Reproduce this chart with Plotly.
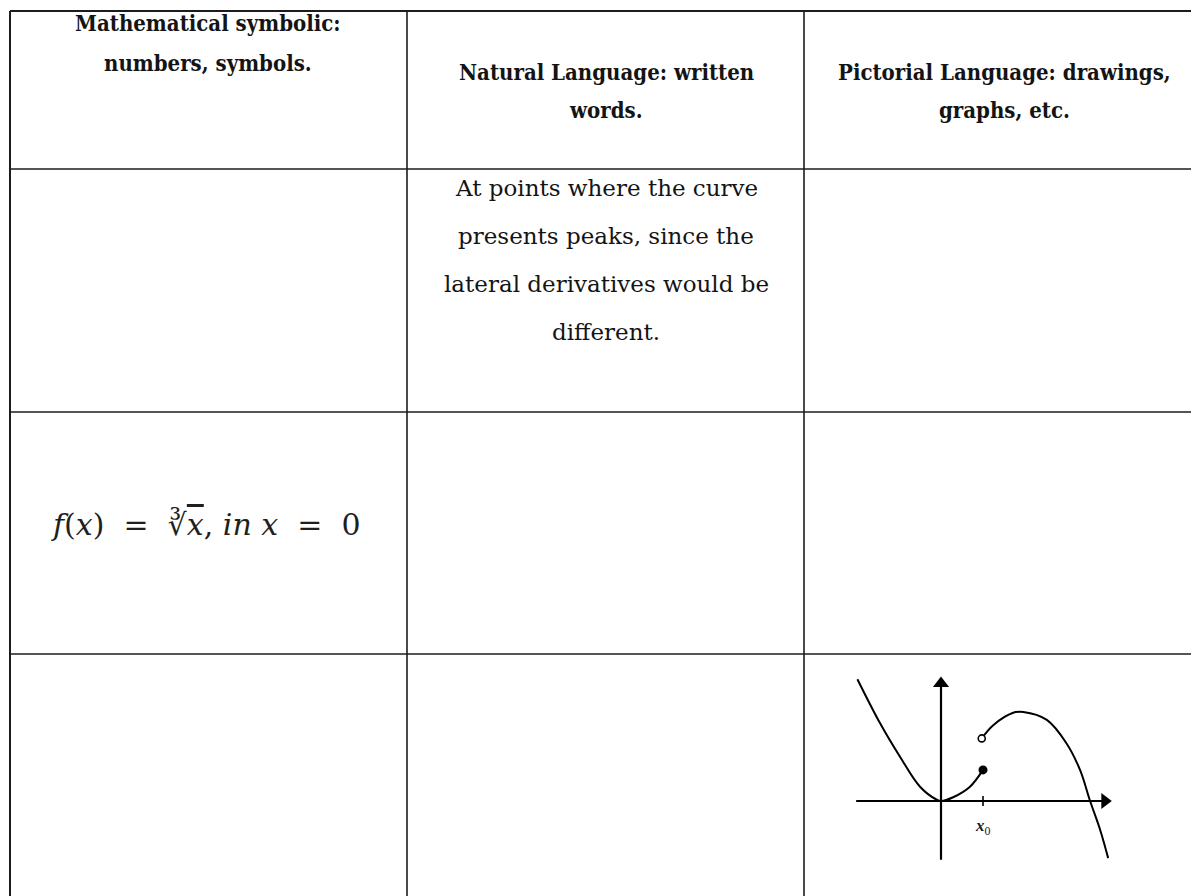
import plotly.graph_objects as go

# ---------------------------------------------------------------- table data
HEADERS = [
    ["Mathematical symbolic:", "numbers, symbols."],
    ["Natural Language: written", "words."],
    ["Pictorial Language: drawings,", "graphs, etc."],
]
NATURAL_LINES = [
    "At points where the curve",
    "presents peaks, since the",
    "lateral derivatives would be",
    "different.",
]
FORMULA = ("<i>f</i>(<i>x</i>)&nbsp; = &nbsp;∛<span style='text-decoration:overline'><i>x</i></span>"
           ", <i>in x</i>&nbsp; = &nbsp;0")

# --------------------------------------------------------- sketch (units of x0)
LEFT_X = [-1.99, -1.45, -0.98, -0.5, -0.1, 0.0, 0.29, 0.69, 1.0]
LEFT_Y = [2.90, 1.85, 1.06, 0.34, 0.03, 0.0, 0.09, 0.34, 0.74]
RIGHT_X = [0.97, 1.25, 1.72, 1.96, 2.52, 2.99, 3.31, 3.55, 3.79, 3.98]
RIGHT_Y = [1.49, 1.81, 2.10, 2.12, 1.93, 1.37, 0.74, 0.0, -0.69, -1.36]
FILLED_PT = (1.0, 0.74)
OPEN_PT = (0.97, 1.49)
X0 = 1.0
X_AXIS = [-2.02, 3.90]
Y_AXIS = [-1.40, 2.80]
X_TIP = 3.90
Y_TIP = 2.80

# page geometry (pixels)
W, H = 1191, 896
COL_EDGES = [10, 407, 804]
ROW_EDGES = [11, 169, 412, 654]
LINE = "#1c1c1c"
INK = "#141414"

fig = go.Figure()

# grid lines of the table
for x in COL_EDGES:
    fig.add_shape(type="line", xref="x", yref="y", x0=x, x1=x, y0=ROW_EDGES[0], y1=H + 5,
                  line=dict(color=LINE, width=2 if x == COL_EDGES[0] else 1.6))
for y in ROW_EDGES:
    fig.add_shape(type="line", xref="x", yref="y", x0=COL_EDGES[0], x1=W + 5, y0=y, y1=y,
                  line=dict(color=LINE, width=2 if y == ROW_EDGES[0] else 1.6))

# headers, one annotation per line to control the leading
head_font = dict(family="DejaVu Serif Condensed", size=22, color=INK)
head_pos = [(208, [23, 63]), (606, [72, 110]), (1004, [72, 110])]
for lines, (hx, ys) in zip(HEADERS, head_pos):
    for txt, hy in zip(lines, ys):
        fig.add_annotation(x=hx, y=hy, xref="x", yref="y", text=f"<b>{txt}</b>",
                           showarrow=False, font=head_font)

# natural-language cell
body_font = dict(family="DejaVu Serif", size=23, color=INK)
for i, line in enumerate(NATURAL_LINES):
    fig.add_annotation(x=606, y=188 + 48 * i, xref="x", yref="y", text=line,
                       showarrow=False, font=body_font)

# symbolic formula
fig.add_annotation(x=206, y=524, xref="x", yref="y", text=FORMULA, showarrow=False,
                   font=dict(family="DejaVu Serif", size=30, color="#1f1f1f"))

# ------------------------------------------------------------- the sketch
sk = dict(xaxis="x2", yaxis="y2", hoverinfo="skip")
fig.add_scatter(x=X_AXIS, y=[0, 0], mode="lines", **sk, line=dict(color="black", width=2.2))
fig.add_scatter(x=[0, 0], y=Y_AXIS, mode="lines", **sk, line=dict(color="black", width=2.2))
# arrowheads
fig.add_scatter(x=[X_TIP], y=[0], mode="markers", **sk,
                marker=dict(symbol="triangle-right", size=14, color="black"))
fig.add_scatter(x=[0], y=[Y_TIP], mode="markers", **sk,
                marker=dict(symbol="triangle-up", size=14, color="black"))
fig.add_scatter(x=LEFT_X, y=LEFT_Y, mode="lines", **sk,
                line=dict(color="black", width=2, shape="spline"))
fig.add_scatter(x=RIGHT_X, y=RIGHT_Y, mode="lines", **sk,
                line=dict(color="black", width=2, shape="spline"))
fig.add_scatter(x=[FILLED_PT[0]], y=[FILLED_PT[1]], mode="markers", **sk,
                marker=dict(color="black", size=9))
fig.add_scatter(x=[OPEN_PT[0]], y=[OPEN_PT[1]], mode="markers", **sk,
                marker=dict(color="white", size=7, line=dict(color="black", width=1.6)))
fig.add_shape(type="line", xref="x2", yref="y2", x0=X0, x1=X0, y0=-0.12, y1=0.12,
              line=dict(color="black", width=1.6))
fig.add_annotation(x=X0, y=-0.62, xref="x2", yref="y2", text="<i><b>x</b></i><sub>0</sub>",
                   showarrow=False, font=dict(family="Liberation Serif", size=17, color="#222"))

# origin of the sketch at (941, 801) px, 42 px per unit
fig.update_layout(
    width=W, height=H,
    margin=dict(l=0, r=0, t=0, b=0),
    paper_bgcolor="white", plot_bgcolor="rgba(0,0,0,0)",
    showlegend=False,
    xaxis=dict(range=[0, W], visible=False, domain=[0, 1]),
    yaxis=dict(range=[H, 0], visible=False, domain=[0, 1]),
    xaxis2=dict(range=[-2.2, 4.2], visible=False, anchor="y2",
                domain=[848.6 / W, 1117.4 / W]),
    yaxis2=dict(range=[-1.6, 3.2], visible=False, anchor="x2",
                domain=[1 - 868.2 / H, 1 - 666.6 / H]),
)

# page body has a default margin; drop it so the figure sits at the window origin
fig.write_html("out.html", config={"displayModeBar": False},
               post_script="document.body.style.margin='0';")
